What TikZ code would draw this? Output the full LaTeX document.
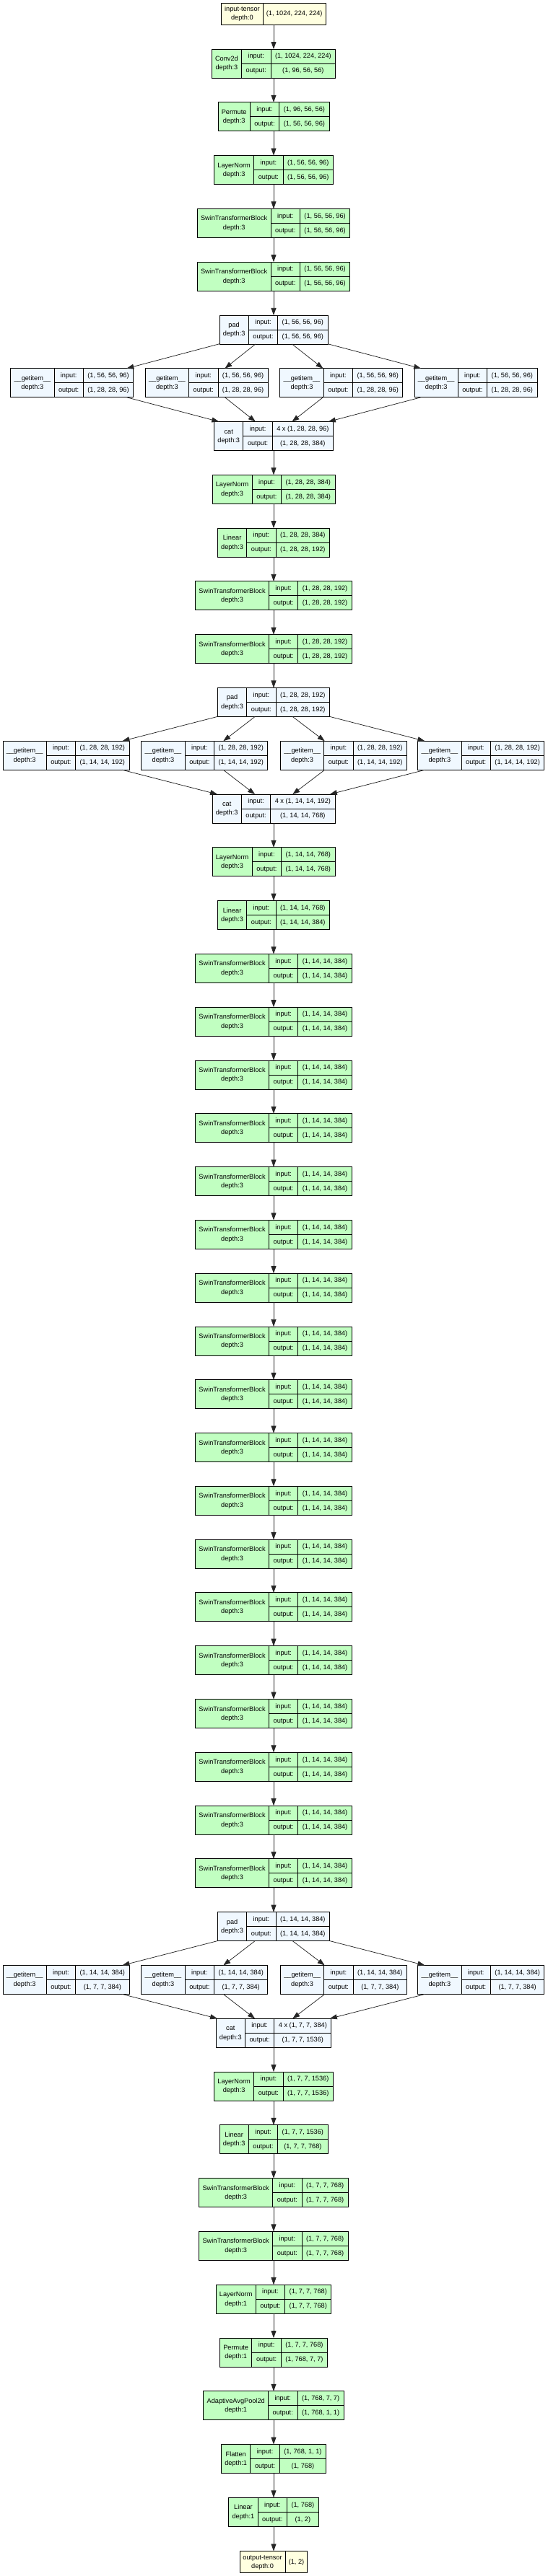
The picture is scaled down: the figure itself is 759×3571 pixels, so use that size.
\documentclass[tikz,border=0pt]{standalone}
\usepackage{fontspec}
\newfontfamily\gvfont{Liberation Sans}
\usetikzlibrary{arrows.meta}
\definecolor{modc}{HTML}{C1FFC1}
\definecolor{tenc}{HTML}{FFFFE0}
\definecolor{func}{HTML}{F0F8FF}
\newdimen\gwA \newdimen\gwB \newdimen\gwC \newdimen\gwT
\newcommand\gvf{\gvfont\fontsize{9.2}{11}\selectfont}
% measure width of #2 into global dimen #1, outside picture state
\newcommand\gvmeasure[2]{%
  \pgfinterruptpicture
  \setbox0=\hbox{\gvf #2}\global#1=\wd0
  \endpgfinterruptpicture
}

\tikzset{
  cellbox/.style={draw=black, line width=0.9pt, inner sep=0pt, outer sep=0pt, rectangle},
  cellline/.style={draw=black, line width=0.9pt},
  celltext/.style={inner sep=0pt, font=\gvf, text=black, text height=6.4pt, text depth=1pt},
  flow/.style={draw=black!85, line width=0.75pt, -{Triangle[length=10pt,width=7pt]}},
}

% #1 name, #2 x, #3 row, #4 fill, #5 title, #6 depth, #7 input, #8 output
\newcommand\gvlayer[8]{%
  \gvmeasure\gwA{#5}\gvmeasure\gwT{depth:#6}%
  \ifdim\gwT>\gwA \global\gwA=\gwT\fi
  \gvmeasure\gwB{output:}%
  \gvmeasure\gwC{#7}\gvmeasure\gwT{#8}%
  \ifdim\gwT>\gwC \global\gwC=\gwT\fi
  \pgfmathsetmacro\gy{88+(#3-2)*73.79}%
  \pgfmathsetmacro\ga{\the\gwA+9.6}%
  \pgfmathsetmacro\gb{\the\gwB+12.3}%
  \pgfmathsetmacro\gc{\the\gwC+12}%
  \pgfmathsetmacro\gtot{\ga+\gb+\gc}%
  \pgfmathsetmacro\gxl{#2-\gtot/2}%
  \pgfmathsetmacro\gxa{\gxl+\ga}%
  \pgfmathsetmacro\gxb{\gxa+\gb}%
  \pgfmathsetmacro\gxr{\gxl+\gtot}%
  \pgfmathsetmacro\gyt{\gy-20}\pgfmathsetmacro\gyb{\gy+20}%
  \pgfmathsetmacro\gyu{\gy-10}\pgfmathsetmacro\gyd{\gy+10}%
  \pgfmathsetmacro\gyA{\gy-6.2}\pgfmathsetmacro\gyB{\gy+6.2}%
  \pgfmathsetmacro\gcA{(\gxl+\gxa)/2}%
  \pgfmathsetmacro\gcB{(\gxa+\gxb)/2}%
  \pgfmathsetmacro\gcC{(\gxb+\gxr)/2}%
  \node[cellbox, fill=#4, minimum width=\gtot pt, minimum height=40pt] (#1) at (#2,\gy) {};
  \draw[cellline] (\gxa,\gyt) -- (\gxa,\gyb) (\gxb,\gyt) -- (\gxb,\gyb) (\gxa,\gy) -- (\gxr,\gy);
  \node[celltext] (#1-t) at (\gcA,\gyA) {#5};
  \node[celltext] (#1-d) at (\gcA,\gyB) {depth:#6};
  \node[celltext] (#1-il) at (\gcB,\gyu) {input:};
  \node[celltext] (#1-ol) at (\gcB,\gyd) {output:};
  \node[celltext] (#1-iv) at (\gcC,\gyu) {#7};
  \node[celltext] (#1-ov) at (\gcC,\gyd) {#8};
}

% #1 name, #2 x, #3 y, #4 title, #5 depth, #6 shape
\newcommand\gvtensor[6]{%
  \gvmeasure\gwA{#4}\gvmeasure\gwT{depth:#5}%
  \ifdim\gwT>\gwA \global\gwA=\gwT\fi
  \gvmeasure\gwC{#6}%
  \pgfmathsetmacro\ga{\the\gwA+8.8}%
  \pgfmathsetmacro\gc{\the\gwC+9.4}%
  \pgfmathsetmacro\gtot{\ga+\gc}%
  \pgfmathsetmacro\gxl{#2-\gtot/2}%
  \pgfmathsetmacro\gxa{\gxl+\ga}%
  \pgfmathsetmacro\gxr{\gxl+\gtot}%
  \pgfmathsetmacro\gyt{#3-15}\pgfmathsetmacro\gyb{#3+15}%
  \pgfmathsetmacro\gyA{#3-6}\pgfmathsetmacro\gyB{#3+6}%
  \pgfmathsetmacro\gcA{(\gxl+\gxa)/2}%
  \pgfmathsetmacro\gcC{(\gxa+\gxr)/2}%
  \node[cellbox, fill=tenc, minimum width=\gtot pt, minimum height=30pt] (#1) at (#2,#3) {};
  \draw[cellline] (\gxa,\gyt) -- (\gxa,\gyb);
  \node[celltext] (#1-t) at (\gcA,\gyA) {#4};
  \node[celltext] (#1-d) at (\gcA,\gyB) {depth:#5};
  \node[celltext] (#1-v) at (\gcC,#3) {#6};
}

\begin{document}
\begin{tikzpicture}[x=1pt, y=-1pt]
\useasboundingbox[fill=white] (0,0) rectangle (759,3571);

\gvtensor{in}{379}{19}{input-tensor}{0}{(1, 1024, 224, 224)}
\gvlayer{n2}{379}{2}{modc}{Conv2d}{3}{(1, 1024, 224, 224)}{(1, 96, 56, 56)}
\gvlayer{n3}{379}{3}{modc}{Permute}{3}{(1, 96, 56, 56)}{(1, 56, 56, 96)}
\gvlayer{n4}{379}{4}{modc}{LayerNorm}{3}{(1, 56, 56, 96)}{(1, 56, 56, 96)}
\gvlayer{n5}{379}{5}{modc}{SwinTransformerBlock}{3}{(1, 56, 56, 96)}{(1, 56, 56, 96)}
\gvlayer{n6}{379}{6}{modc}{SwinTransformerBlock}{3}{(1, 56, 56, 96)}{(1, 56, 56, 96)}
\gvlayer{p1}{379}{7}{func}{pad}{3}{(1, 56, 56, 96)}{(1, 56, 56, 96)}
\gvlayer{g1a}{99.7}{8}{func}{\_\_getitem\_\_}{3}{(1, 56, 56, 96)}{(1, 28, 28, 96)}
\gvlayer{g1b}{286.3}{8}{func}{\_\_getitem\_\_}{3}{(1, 56, 56, 96)}{(1, 28, 28, 96)}
\gvlayer{g1c}{472.9}{8}{func}{\_\_getitem\_\_}{3}{(1, 56, 56, 96)}{(1, 28, 28, 96)}
\gvlayer{g1d}{659}{8}{func}{\_\_getitem\_\_}{3}{(1, 56, 56, 96)}{(1, 28, 28, 96)}
\gvlayer{c1}{379}{9}{func}{cat}{3}{4 x (1, 28, 28, 96)}{(1, 28, 28, 384)}
\gvlayer{n10}{379}{10}{modc}{LayerNorm}{3}{(1, 28, 28, 384)}{(1, 28, 28, 384)}
\gvlayer{n11}{379}{11}{modc}{Linear}{3}{(1, 28, 28, 384)}{(1, 28, 28, 192)}
\gvlayer{n12}{379}{12}{modc}{SwinTransformerBlock}{3}{(1, 28, 28, 192)}{(1, 28, 28, 192)}
\gvlayer{n13}{379}{13}{modc}{SwinTransformerBlock}{3}{(1, 28, 28, 192)}{(1, 28, 28, 192)}
\gvlayer{p2}{379}{14}{func}{pad}{3}{(1, 28, 28, 192)}{(1, 28, 28, 192)}
\gvlayer{g2a}{91.5}{15}{func}{\_\_getitem\_\_}{3}{(1, 28, 28, 192)}{(1, 14, 14, 192)}
\gvlayer{g2b}{283.4}{15}{func}{\_\_getitem\_\_}{3}{(1, 28, 28, 192)}{(1, 14, 14, 192)}
\gvlayer{g2c}{476}{15}{func}{\_\_getitem\_\_}{3}{(1, 28, 28, 192)}{(1, 14, 14, 192)}
\gvlayer{g2d}{666.3}{15}{func}{\_\_getitem\_\_}{3}{(1, 28, 28, 192)}{(1, 14, 14, 192)}
\gvlayer{c2}{379}{16}{func}{cat}{3}{4 x (1, 14, 14, 192)}{(1, 14, 14, 768)}
\gvlayer{n17}{379}{17}{modc}{LayerNorm}{3}{(1, 14, 14, 768)}{(1, 14, 14, 768)}
\gvlayer{n18}{379}{18}{modc}{Linear}{3}{(1, 14, 14, 768)}{(1, 14, 14, 384)}
\foreach \k in {1,...,18}{
  \pgfmathtruncatemacro\rr{18+\k}
  \gvlayer{s\k}{379}{\rr}{modc}{SwinTransformerBlock}{3}{(1, 14, 14, 384)}{(1, 14, 14, 384)}
}
\gvlayer{p3}{379}{37}{func}{pad}{3}{(1, 14, 14, 384)}{(1, 14, 14, 384)}
\gvlayer{g3a}{91.5}{38}{func}{\_\_getitem\_\_}{3}{(1, 14, 14, 384)}{(1, 7, 7, 384)}
\gvlayer{g3b}{283.4}{38}{func}{\_\_getitem\_\_}{3}{(1, 14, 14, 384)}{(1, 7, 7, 384)}
\gvlayer{g3c}{476}{38}{func}{\_\_getitem\_\_}{3}{(1, 14, 14, 384)}{(1, 7, 7, 384)}
\gvlayer{g3d}{666.3}{38}{func}{\_\_getitem\_\_}{3}{(1, 14, 14, 384)}{(1, 7, 7, 384)}
\gvlayer{c3}{379}{39}{func}{cat}{3}{4 x (1, 7, 7, 384)}{(1, 7, 7, 1536)}
\gvlayer{n40}{379}{40}{modc}{LayerNorm}{3}{(1, 7, 7, 1536)}{(1, 7, 7, 1536)}
\gvlayer{n41}{379}{41}{modc}{Linear}{3}{(1, 7, 7, 1536)}{(1, 7, 7, 768)}
\gvlayer{n42}{379}{42}{modc}{SwinTransformerBlock}{3}{(1, 7, 7, 768)}{(1, 7, 7, 768)}
\gvlayer{n43}{379}{43}{modc}{SwinTransformerBlock}{3}{(1, 7, 7, 768)}{(1, 7, 7, 768)}
\gvlayer{n44}{379}{44}{modc}{LayerNorm}{1}{(1, 7, 7, 768)}{(1, 7, 7, 768)}
\gvlayer{n45}{379}{45}{modc}{Permute}{1}{(1, 7, 7, 768)}{(1, 768, 7, 7)}
\gvlayer{n46}{379}{46}{modc}{AdaptiveAvgPool2d}{1}{(1, 768, 7, 7)}{(1, 768, 1, 1)}
\gvlayer{n47}{379}{47}{modc}{Flatten}{1}{(1, 768, 1, 1)}{(1, 768)}
\gvlayer{n48}{379}{48}{modc}{Linear}{1}{(1, 768)}{(1, 2)}
\gvtensor{out}{379}{3551.5}{output-tensor}{0}{(1, 2)}

% connectors
\draw[flow] (in) -- (n2);
\draw[flow] (n2) -- (n3);
\draw[flow] (n3) -- (n4);
\draw[flow] (n4) -- (n5);
\draw[flow] (n5) -- (n6);
\draw[flow] (n6) -- (p1);
\foreach \g in {g1a,g1b,g1c,g1d}{
  \draw[flow] (p1) -- (\g);
  \draw[flow] (\g) -- (c1);
}
\draw[flow] (c1) -- (n10);
\draw[flow] (n10) -- (n11);
\draw[flow] (n11) -- (n12);
\draw[flow] (n12) -- (n13);
\draw[flow] (n13) -- (p2);
\foreach \g in {g2a,g2b,g2c,g2d}{
  \draw[flow] (p2) -- (\g);
  \draw[flow] (\g) -- (c2);
}
\draw[flow] (c2) -- (n17);
\draw[flow] (n17) -- (n18);
\draw[flow] (n18) -- (s1);
\foreach \k [evaluate=\k as \kn using int(\k+1)] in {1,...,17}{
  \draw[flow] (s\k) -- (s\kn);
}
\draw[flow] (s18) -- (p3);
\foreach \g in {g3a,g3b,g3c,g3d}{
  \draw[flow] (p3) -- (\g);
  \draw[flow] (\g) -- (c3);
}
\draw[flow] (c3) -- (n40);
\draw[flow] (n40) -- (n41);
\draw[flow] (n41) -- (n42);
\draw[flow] (n42) -- (n43);
\draw[flow] (n43) -- (n44);
\draw[flow] (n44) -- (n45);
\draw[flow] (n45) -- (n46);
\draw[flow] (n46) -- (n47);
\draw[flow] (n47) -- (n48);
\draw[flow] (n48) -- (out);
\end{tikzpicture}
\end{document}
